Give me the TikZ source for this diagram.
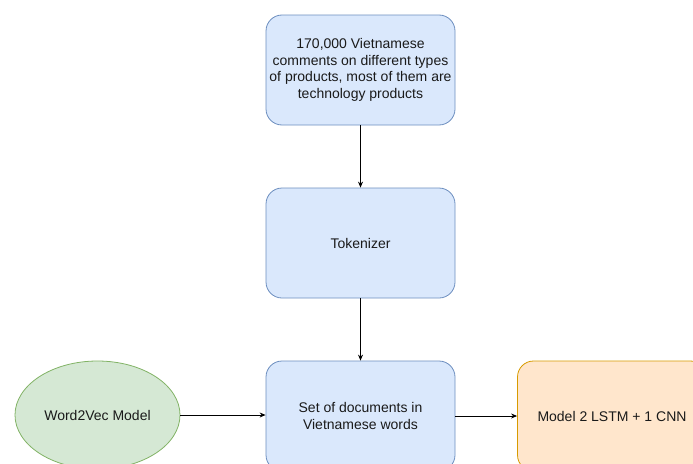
\documentclass[tikz,border=0pt]{standalone}
\usepackage{fontspec}
\setmainfont{Liberation Sans}
\usetikzlibrary{shapes.geometric,arrows.meta}
\definecolor{bfill}{HTML}{DAE8FC}
\definecolor{bdraw}{HTML}{6C8EBF}
\definecolor{gfill}{HTML}{D5E8D4}
\definecolor{gdraw}{HTML}{82B366}
\definecolor{ofill}{HTML}{FFE6CC}
\definecolor{odraw}{HTML}{D79B00}
\definecolor{txt}{HTML}{1A1A1A}
\begin{document}
\begin{tikzpicture}[x=1pt,y=-1pt,
  box/.style={rectangle,rounded corners=16pt,minimum width=189pt,minimum height=110pt,
    line width=0.8pt,align=center,text=txt,font=\fontsize{14}{16.5}\selectfont,inner sep=1pt},
  bluebox/.style={box,fill=bfill,draw=bdraw},
  orangebox/.style={box,fill=ofill,draw=odraw},
  greenell/.style={ellipse,fill=gfill,draw=gdraw,line width=0.8pt,minimum width=165pt,minimum height=108pt,
    text=txt,font=\fontsize{14}{16.5}\selectfont,inner sep=0pt},
  conn/.style={line width=0.8pt,-{Stealth[length=6pt,width=5pt]}}]
\useasboundingbox (0,0) rectangle (693,463);
\clip (0,0) rectangle (693,463);
\node[bluebox] (src) at (360.5,70) {170,000 Vietnamese\\comments on different types\\of products, most of them are\\technology products};
\node[bluebox] (tok) at (360.5,243) {Tokenizer};
\node[bluebox] (docs) at (360.5,416) {Set of documents in\\Vietnamese words};
\node[greenell] (w2v) at (97.5,415) {Word2Vec Model};
\node[orangebox] (model) at (612,416) {Model 2 LSTM + 1 CNN};
\draw[conn] (src) -- (tok);
\draw[conn] (tok) -- (docs);
\draw[conn] (w2v.east) -- (w2v.east -| docs.west);
\draw[conn] (docs.east) -- (docs.east -| model.west);
\end{tikzpicture}
\end{document}
